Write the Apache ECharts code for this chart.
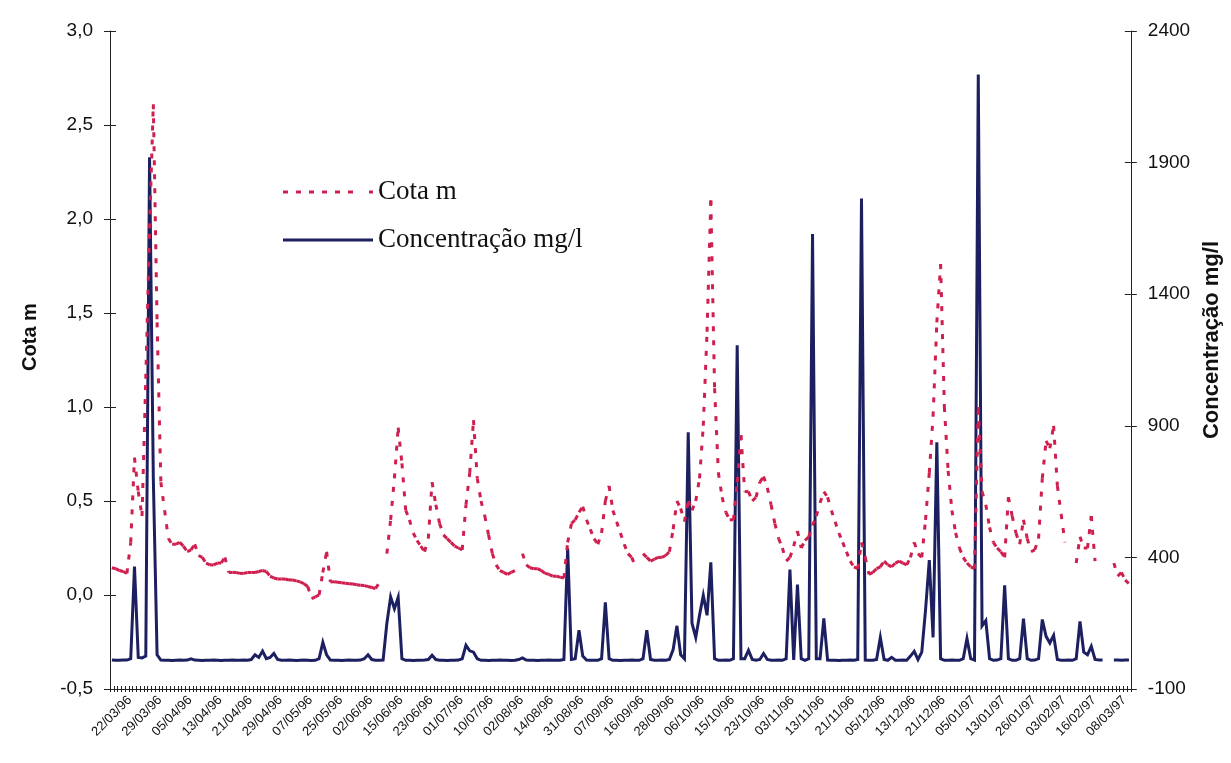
<!DOCTYPE html>
<html>
<head>
<meta charset="utf-8">
<script src="https://cdn.jsdelivr.net/npm/echarts@6/dist/echarts.min.js"></script>
<style>
  html, body { margin: 0; padding: 0; background: #ffffff; }
  #chart { width: 1231px; height: 763px; }
</style>
</head>
<body>
<div id="chart"></div>
<script>
// Date labels shown under every 8th sample on the time axis
const tickLabels = ['22/03/96', '29/03/96', '05/04/96', '13/04/96', '21/04/96', '29/04/96', '07/05/96',
  '25/05/96', '02/06/96', '15/06/96', '23/06/96', '01/07/96', '10/07/96', '02/08/96', '14/08/96',
  '31/08/96', '07/09/96', '16/09/96', '28/09/96', '06/10/96', '15/10/96', '23/10/96', '03/11/96',
  '13/11/96', '21/11/96', '05/12/96', '13/12/96', '21/12/96', '05/01/97', '13/01/97', '26/01/97',
  '03/02/97', '16/02/97', '08/03/97'];
const LABEL_STEP = 8;

// Water level (m), one value per sample; null = no reading
const cota = [
  0.145, 0.14, 0.13, 0.125, 0.115, 0.28, 0.73, 0.55, 0.42, 1.15,
  1.95, 2.61, 1.45, 0.6, 0.45, 0.3, 0.27, 0.27, 0.28, 0.26,
  0.23, 0.24, 0.27, 0.21, 0.2, 0.17, 0.16, 0.16, 0.17, 0.17,
  0.2, 0.12, 0.12, 0.12, 0.115, 0.115, 0.12, 0.12, 0.12, 0.125,
  0.13, 0.125, 0.1, 0.09, 0.085, 0.085, 0.085, 0.08, 0.08, 0.075,
  0.07, 0.06, 0.045, -0.02, -0.01, 0.0, 0.12, 0.23, 0.07, 0.07,
  0.068, 0.065, 0.062, 0.06, 0.058, 0.055, 0.052, 0.05, 0.045, 0.04,
  0.035, 0.065, null, 0.22, 0.4, 0.62, 0.89, 0.7, 0.45, 0.4,
  0.33, 0.29, 0.26, 0.23, 0.3, 0.6, 0.48, 0.38, 0.32, 0.3,
  0.28, 0.26, 0.25, 0.24, 0.48, 0.65, 0.93, 0.62, 0.5, 0.42,
  0.32, 0.22, 0.16, 0.13, 0.12, 0.11, 0.12, 0.13, null, 0.22,
  0.16, 0.145, 0.14, 0.14, 0.13, 0.115, 0.11, 0.1, 0.1, 0.095,
  0.09, 0.28, 0.38, 0.4, 0.44, 0.47, 0.4, 0.35, 0.3, 0.27,
  0.33, 0.5, 0.58, 0.45, 0.39, 0.33, 0.27, 0.22, 0.2, 0.15,
  null, 0.22, 0.2, 0.18, 0.19, 0.2, 0.2, 0.21, 0.23, 0.35,
  0.5, 0.46, 0.39, 0.5, 0.45, 0.5, 0.62, 0.9, 1.4, 2.1,
  1.1, 0.65, 0.52, 0.44, 0.4, 0.4, 0.6, 0.85, 0.55, 0.55,
  0.5, 0.52, 0.6, 0.63, 0.57, 0.48, 0.38, 0.3, 0.25, 0.18,
  0.2, 0.26, 0.34, 0.25, 0.29, 0.31, 0.37, 0.42, 0.49, 0.55,
  0.52, 0.45, 0.39, 0.33, 0.28, 0.23, 0.18, 0.15, 0.14, 0.28,
  0.2, 0.11, 0.12, 0.14, 0.15, 0.18, 0.16, 0.15, 0.17, 0.18,
  0.17, 0.16, 0.2, 0.28, 0.22, 0.2, 0.4, 0.65, 0.95, 1.45,
  1.76, 1.0, 0.66, 0.45, 0.33, 0.25, 0.2, 0.17, 0.15, 0.14,
  1.0, 0.55, 0.48, 0.36, 0.28, 0.25, 0.23, 0.2, 0.52, 0.42,
  0.33, 0.27, 0.4, 0.3, 0.23, 0.24, 0.3, 0.62, 0.82, 0.78,
  0.9, 0.58, 0.43, 0.28, null, null, 0.17, 0.31, 0.25, 0.25,
  0.42, 0.18, null, null, null, null, 0.17, 0.1, 0.12, 0.08,
  0.06
];

// Sediment concentration (mg/l), same samples
const concentracao = [
  10, 9, 9, 10, 10, 15, 365, 20, 18, 25,
  1920, 700, 30, 10, 9, 9, 8, 9, 10, 9,
  10, 15, 10, 9, 8, 9, 9, 10, 9, 8,
  9, 9, 10, 9, 9, 10, 9, 12, 30, 20,
  44, 15, 20, 35, 12, 9, 9, 10, 9, 8,
  9, 10, 9, 8, 9, 15, 77, 30, 10, 9,
  9, 8, 9, 10, 9, 9, 10, 15, 30, 12,
  9, 9, 10, 150, 250, 205, 248, 15, 9, 9,
  8, 9, 9, 10, 12, 28, 12, 9, 9, 8,
  9, 9, 10, 15, 66, 45, 40, 15, 9, 9,
  8, 9, 9, 10, 9, 9, 8, 9, 12, 18,
  10, 9, 9, 8, 9, 9, 10, 9, 9, 9,
  12, 435, 12, 15, 123, 25, 10, 9, 9, 9,
  15, 229, 15, 9, 9, 8, 9, 9, 10, 9,
  9, 15, 123, 12, 9, 9, 10, 9, 12, 50,
  140, 30, 15, 875, 150, 96, 180, 256, 180, 381,
  15, 9, 9, 10, 9, 15, 1206, 15, 15, 47,
  12, 9, 12, 35, 12, 9, 9, 10, 9, 15,
  354, 10, 297, 15, 9, 15, 1629, 15, 15, 168,
  10, 9, 9, 8, 9, 9, 10, 9, 12, 1764,
  10, 9, 9, 12, 96, 12, 9, 20, 9, 9,
  10, 9, 25, 43, 12, 40, 200, 390, 96, 837,
  15, 9, 9, 10, 9, 9, 15, 92, 15, 10,
  2235, 140, 160, 15, 9, 10, 15, 294, 15, 9,
  9, 15, 167, 15, 9, 10, 15, 164, 100, 75,
  104, 12, 9, 9, 10, 9, 15, 157, 40, 30,
  62, 12, 10, 10, null, null, 10, 10, 9, 10,
  10
];

// Axis tick values
const cotaTicks = [-0.5, 0, 0.5, 1, 1.5, 2, 2.5, 3];
const concTicks = [-100, 400, 900, 1400, 1900, 2400];

const RED = '#cf1f4f';
const BLUE = '#1d2060';
const AXIS = '#222222';
const SANS = '"Liberation Sans", Arial, sans-serif';
const SERIF = '"Liberation Serif", "Times New Roman", serif';

const categories = cota.map((_, i) => String(i));
const comma = v => v.toFixed(1).replace('.', ',');

// Legend glyphs: short dashes for the level, a bar for the concentration
const dashIcon = 'path://M0,0h5v3h-5zM13,0h5v3h-5zM26,0h5v3h-5zM39,0h5v3h-5zM52,0h5v3h-5zM65,0h5v3h-5zM86,0h4v3h-4z';
const barIcon = 'path://M0,0h90v3h-90z';

// The level line is dashed piece by piece, so the pattern restarts at every sample
function renderCotaSegment(params, api) {
  const i = params.dataIndex;
  const a = cota[i];
  const b = cota[i + 1];
  if (a == null || b == null) return null;
  const p0 = api.coord([i, a]);
  const p1 = api.coord([i + 1, b]);
  return {
    type: 'line',
    silent: true,
    shape: { x1: p0[0], y1: p0[1], x2: p1[0], y2: p1[1] },
    style: { stroke: RED, lineWidth: 3, lineDash: [5, 9], lineCap: 'butt' }
  };
}

const chart = echarts.init(document.getElementById('chart'), null, { renderer: 'canvas' });

const yBase = {
  type: 'value',
  splitLine: { show: false },
  axisLine: { show: true, onZero: false, lineStyle: { color: AXIS, width: 1 } }
};

chart.setOption({
  animation: false,
  backgroundColor: '#ffffff',
  grid: { left: 110, right: 98, top: 31, bottom: 74 },
  legend: {
    orient: 'vertical',
    left: 283,
    top: 177,
    padding: 0,
    itemWidth: 90,
    itemHeight: 3,
    itemGap: 18,
    selectedMode: false,
    textStyle: { fontFamily: SERIF, fontSize: 27, color: '#111', lineHeight: 30 },
    itemStyle: { borderWidth: 0 },
    data: [
      { name: 'Cota m', icon: dashIcon },
      { name: 'Concentração mg/l', icon: barIcon }
    ]
  },
  xAxis: [
    {
      type: 'category',
      data: categories,
      position: 'bottom',
      axisLine: { onZero: false, lineStyle: { color: AXIS, width: 1 } },
      axisTick: { show: true, interval: 0, length: 3, lineStyle: { color: AXIS } },
      axisLabel: {
        interval: LABEL_STEP - 1,
        rotate: 45,
        margin: 27,
        align: 'center',
        verticalAlign: 'middle',
        fontFamily: SANS,
        fontSize: 13,
        color: '#111',
        formatter: (v, idx) => (idx % LABEL_STEP === 0 ? tickLabels[idx / LABEL_STEP] : '')
      }
    },
    {
      // inner half of the cross tick marks
      type: 'category',
      data: categories,
      position: 'bottom',
      axisLine: { show: false, onZero: false },
      axisTick: { show: true, inside: true, interval: 0, length: 3, lineStyle: { color: AXIS } },
      axisLabel: { show: false }
    }
  ],
  yAxis: [
    Object.assign({}, yBase, {
      position: 'left',
      min: -0.5,
      max: 3,
      interval: 0.5,
      name: 'Cota m',
      nameLocation: 'middle',
      nameRotate: 90,
      nameGap: 70,
      nameTextStyle: { fontFamily: SANS, fontSize: 20, fontWeight: 'bold', color: '#111', padding: [0, 0, 0, 46] },
      axisTick: { show: true, length: 6, lineStyle: { color: AXIS }, customValues: cotaTicks },
      axisLabel: { margin: 17, fontFamily: SANS, fontSize: 19, color: '#111', customValues: cotaTicks, formatter: v => comma(v) }
    }),
    Object.assign({}, yBase, {
      position: 'right',
      min: -100,
      max: 2400,
      name: 'Concentração mg/l',
      nameLocation: 'middle',
      nameRotate: 90,
      nameGap: 70,
      nameTextStyle: { fontFamily: SANS, fontSize: 22, fontWeight: 'bold', color: '#111', padding: [0, 0, 0, 40] },
      axisTick: { show: true, length: 6, lineStyle: { color: AXIS }, customValues: concTicks },
      axisLabel: { margin: 17, fontFamily: SANS, fontSize: 19, color: '#111', customValues: concTicks, formatter: v => String(v) }
    }),
    Object.assign({}, yBase, {
      position: 'left',
      min: -0.5,
      max: 3,
      interval: 0.5,
      axisLine: { show: false },
      axisTick: { show: true, inside: true, length: 6, lineStyle: { color: AXIS }, customValues: cotaTicks },
      axisLabel: { show: false }
    }),
    Object.assign({}, yBase, {
      position: 'right',
      min: -100,
      max: 2400,
      axisLine: { show: false },
      axisTick: { show: true, inside: true, length: 6, lineStyle: { color: AXIS }, customValues: concTicks },
      axisLabel: { show: false }
    })
  ],
  series: [
    {
      name: 'Concentração mg/l',
      type: 'line',
      xAxisIndex: 0,
      yAxisIndex: 1,
      data: concentracao,
      showSymbol: false,
      connectNulls: false,
      color: BLUE,
      lineStyle: { color: BLUE, width: 3, join: 'miter', miterLimit: 6 },
      z: 3
    },
    {
      name: 'Cota m',
      type: 'custom',
      xAxisIndex: 0,
      yAxisIndex: 0,
      data: cota.map((v, i) => [i, v]),
      encode: { x: 0, y: 1 },
      color: RED,
      itemStyle: { color: RED },
      renderItem: renderCotaSegment,
      z: 4
    }
  ]
});
</script>
</body>
</html>
